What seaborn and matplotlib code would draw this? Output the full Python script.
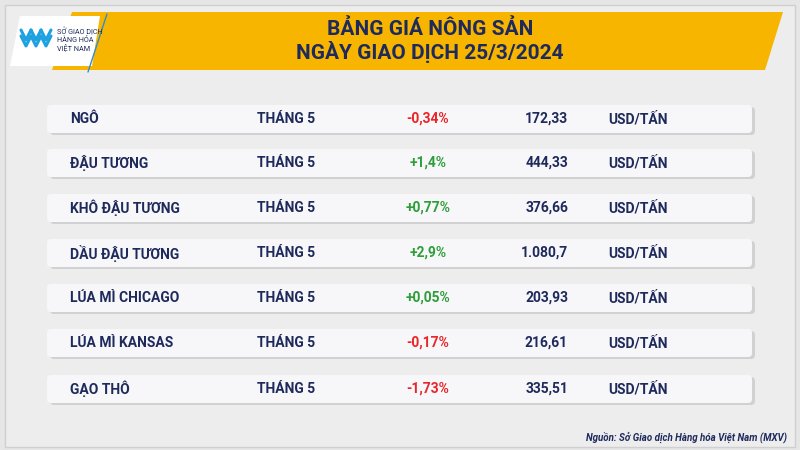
import matplotlib
matplotlib.use("Agg")
import matplotlib.pyplot as plt
import seaborn as sns
from matplotlib.patches import FancyBboxPatch, Polygon, Rectangle

sns.set_theme(style="white")
plt.rcParams['font.family'] = ['Roboto', 'DejaVu Sans']

# data
commodities = ["NGÔ", "ĐẬU TƯƠNG", "KHÔ ĐẬU TƯƠNG", "DẦU ĐẬU TƯƠNG",
               "LÚA MÌ CHICAGO", "LÚA MÌ KANSAS", "GẠO THÔ"]
months = ["THÁNG 5"] * 7
changes = ["-0,34%", "+1,4%", "+0,77%", "+2,9%", "+0,05%", "-0,17%", "-1,73%"]
prices = ["172,33", "444,33", "376,66", "1.080,7", "203,93", "216,61", "335,51"]
units = ["USD/TẤN"] * 7

NAVY = "#1F2A5C"
RED = "#E8262A"
GREEN = "#2E9E3A"
YELLOW = "#F7B500"

fig = plt.figure(figsize=(8, 4.5), dpi=100)
fig.patch.set_facecolor("#E6E6E6")
ax = fig.add_axes([0, 0, 1, 1])
ax.set_xlim(0, 800)
ax.set_ylim(450, 0)
ax.axis("off")

# background panel
ax.add_patch(Rectangle((5, 5), 790, 442, fc="#EDEDED", ec="#D0D0D0", lw=1))

# banner
ax.add_patch(Polygon([(72, 12), (783, 12), (765, 70), (52, 70)], closed=True,
                     fc=YELLOW, ec="none"))
ax.add_patch(Polygon([(20, 16), (100, 16), (92, 66), (10, 66)], closed=True,
                     fc="white", ec="none"))
ax.plot([107, 88], [14, 72], color="#2E8FD0", lw=1)
for i in range(3):
    x0 = 21 + i * 10
    for dy in (0, 6):
        ax.plot([x0, x0 + 5, x0 + 10], [30 + dy, 40 + dy, 30 + dy],
                color="#1DA1E0", lw=2.2)
ax.text(57, 40, "SỞ GIAO DỊCH\nHÀNG HÓA\nVIỆT NAM", fontsize=5.2, color=NAVY,
        va="center", ha="left", linespacing=1.05)

title_font = ['Liberation Sans Narrow', 'Roboto', 'DejaVu Sans']
ax.text(430, 29, "BẢNG GIÁ NÔNG SẢN", fontsize=15, fontweight="bold",
        color=NAVY, ha="center", va="center", family=title_font)
ax.text(430, 52, "NGÀY GIAO DỊCH 25/3/2024", fontsize=15, fontweight="bold",
        color=NAVY, ha="center", va="center", family=title_font)

# rows
row_y = [119, 163, 208, 253, 298, 343, 389]
for i, name in enumerate(commodities):
    y = row_y[i]
    ax.add_patch(FancyBboxPatch((50, y - 12), 705, 28,
                                boxstyle="round,pad=0,rounding_size=4",
                                fc="#BFBFBF", ec="none", alpha=0.6))
    ax.add_patch(FancyBboxPatch((47, y - 14), 705, 28,
                                boxstyle="round,pad=0,rounding_size=4",
                                fc="#F7F7F9", ec="none"))
    kw = dict(fontsize=10, fontweight="bold", va="center")
    ax.text(70, y, name, color=NAVY, ha="left", **kw)
    ax.text(257, y, months[i], color=NAVY, ha="left", **kw)
    col = RED if changes[i].startswith("-") else GREEN
    ax.text(428, y, changes[i], color=col, ha="center", **kw)
    ax.text(568, y, prices[i], color=NAVY, ha="right", **kw)
    ax.text(608, y, units[i], color=NAVY, ha="left", **kw)

ax.text(787, 437, "Nguồn: Sở Giao dịch Hàng hóa Việt Nam (MXV)", fontsize=7,
        fontweight="bold", style="italic", color=NAVY, ha="right", va="center")

fig.savefig("out.png", dpi=100)
